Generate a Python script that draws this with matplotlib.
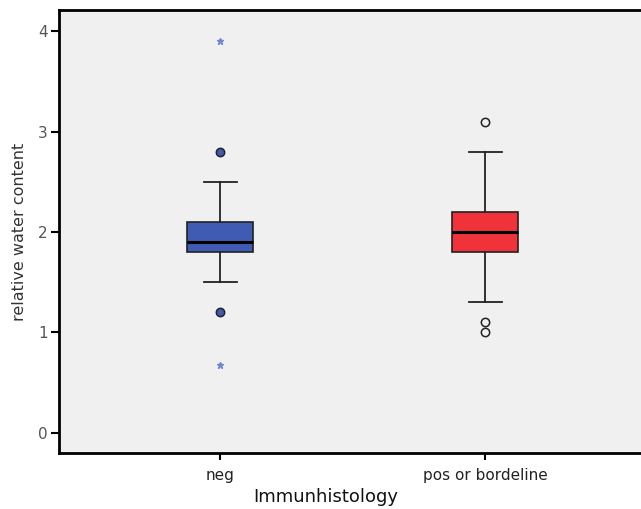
import matplotlib
matplotlib.use('Agg')
import matplotlib.pyplot as plt

GROUPS = ['neg', 'pos or bordeline']
Q1 = [1.8, 1.8]
MEDIANS = [1.9, 2.0]
Q3 = [2.1, 2.2]
WHISK_LO = [1.5, 1.3]
WHISK_HI = [2.5, 2.8]
# mild outliers (circles) and extreme outliers (stars)
OUTLIERS = [[2.8, 1.2], [3.1, 1.1, 1.0]]
EXTREMES = [[3.9, 0.68], []]
BOX_COLORS = ['#3f5bb3', '#ef3338']
OUTLIER_FACE = ['#3f5bb3', 'none']

fig = plt.figure(figsize=(6.41, 5.09), dpi=100)
ax = fig.add_axes([59 / 641, 1 - 453 / 509, 588 / 641, 443 / 509])
ax.set_facecolor('#f0f0f0')

stats = []
for i, name in enumerate(GROUPS):
    stats.append({'label': name, 'q1': Q1[i], 'med': MEDIANS[i], 'q3': Q3[i],
                  'whislo': WHISK_LO[i], 'whishi': WHISK_HI[i], 'fliers': []})

positions = [1, 2]
bp = ax.bxp(stats, positions=positions, widths=0.25, patch_artist=True,
            showfliers=False,
            boxprops=dict(edgecolor='#222222', linewidth=1.2),
            medianprops=dict(color='black', linewidth=2.2),
            whiskerprops=dict(color='#222222', linewidth=1.3),
            capprops=dict(color='#222222', linewidth=1.3),
            capwidths=0.125)
for patch, c in zip(bp['boxes'], BOX_COLORS):
    patch.set_facecolor(c)

for i, pos in enumerate(positions):
    ax.plot([pos] * len(OUTLIERS[i]), OUTLIERS[i], 'o', ms=6,
            mfc=OUTLIER_FACE[i], mec='#222222', mew=1.1, ls='none')
    if EXTREMES[i]:
        ax.plot([pos] * len(EXTREMES[i]), EXTREMES[i], '*', ms=5,
                color='#6f86d0', ls='none')

ax.set_xlim(0.392, 2.611)
ax.set_ylim(-0.2, 4.21)
ax.set_yticks([0, 1, 2, 3, 4])
ax.set_xticks(positions)
ax.set_xticklabels(GROUPS)

for side in ['left', 'top', 'bottom']:
    ax.spines[side].set_linewidth(2)
    ax.spines[side].set_color('black')
ax.spines['right'].set_visible(False)

ax.tick_params(axis='y', direction='out', length=6, width=1.5,
               labelsize=11, labelcolor='#555555', pad=2)
ax.tick_params(axis='x', direction='out', length=5, width=1.5,
               labelsize=11, labelcolor='#222222', pad=6)

ax.set_ylabel('relative water content', fontsize=11.5, color='#333333',
              labelpad=8)
fig.text(326 / 641, 1 - 497 / 509, 'Immunhistology', ha='center', va='center',
         fontsize=13, color='#111111', fontweight='medium')

fig.savefig('out.png', dpi=100)
